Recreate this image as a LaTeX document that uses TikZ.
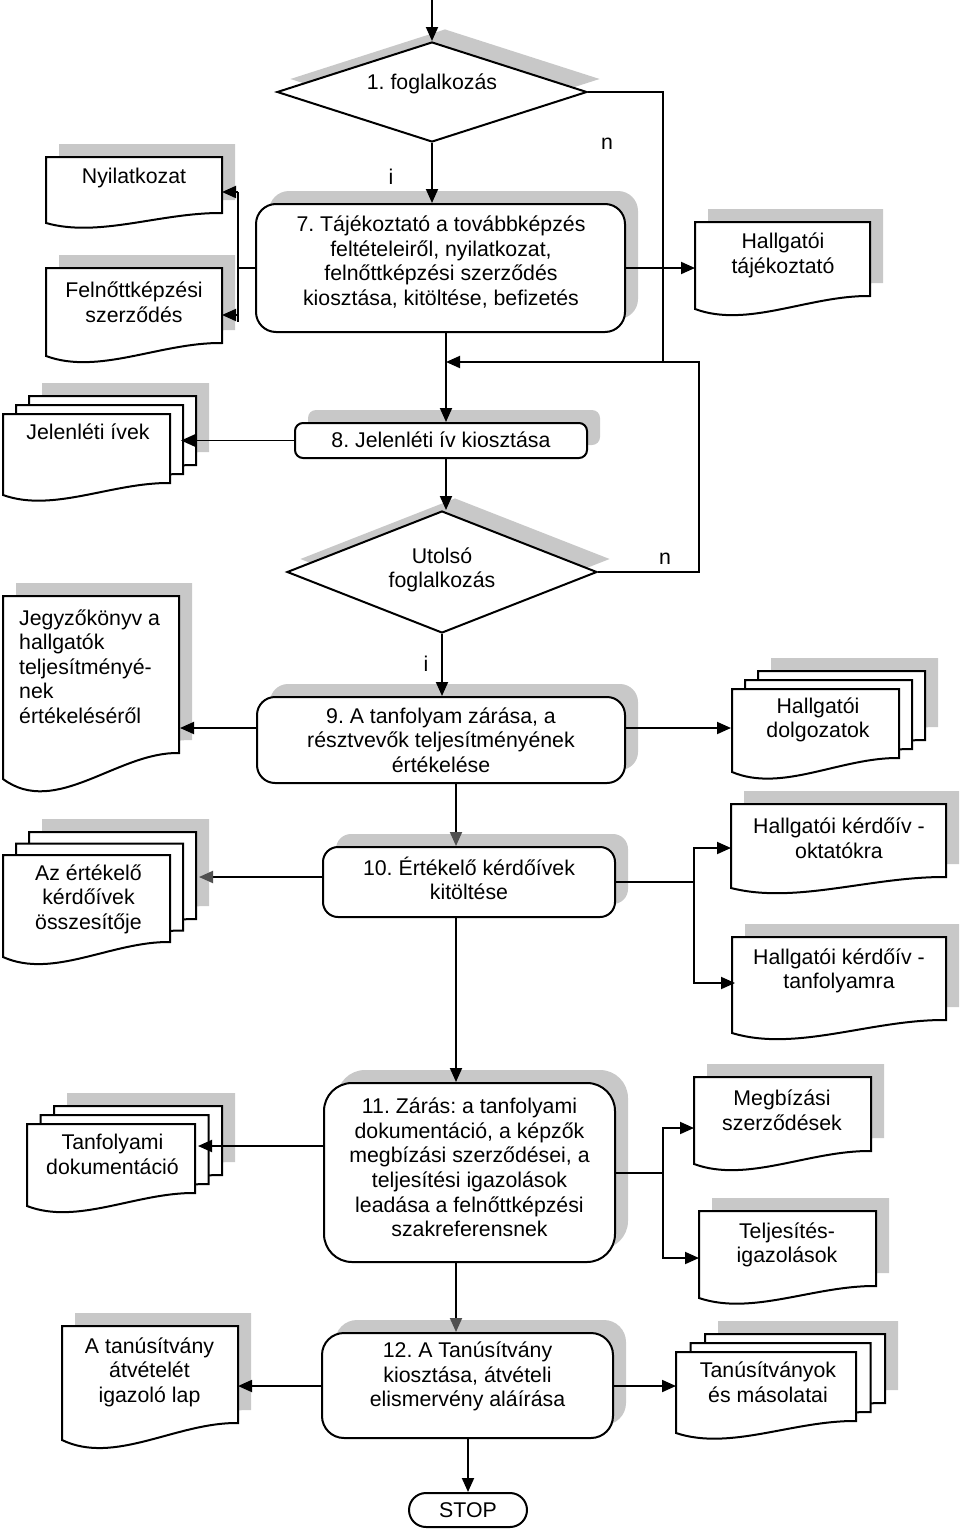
\documentclass[tikz,border=0pt]{standalone}
\usepackage{fontspec}
\setmainfont{Liberation Sans}
\frenchspacing
\usetikzlibrary{shapes.geometric,shadows,arrows.meta}
\definecolor{shadowc}{RGB}{200,200,200}
\definecolor{arrowg}{RGB}{80,80,80}
% document shape: x0, ytop, x1, y bottom-left, y bottom-right
\newcommand\docpath[5]{({#1},{#2}) -- ({#3},{#2}) -- ({#3},{#5}) .. controls ({(#1)+0.65*((#3)-(#1))},{(#4)-1.05*((#4)-(#5))}) and ({(#1)+0.3*((#3)-(#1))},{(#4)+1.5*((#4)-(#5))}) .. ({#1},{#4}) -- cycle}
\newcommand\singledoc[5]{%
  \fill[shadowc] \docpath{(#1)+13}{(#2)-13}{(#3)+13}{(#4)-13}{(#5)-13};
  \filldraw[docline] \docpath{#1}{#2}{#3}{#4}{#5};}
\newcommand\multidoc[7]{%
  \fill[shadowc] \docpath{(#1)+2*(#6)+13}{(#2)+2*(#7)-13}{(#3)+2*(#6)+13}{(#4)+2*(#7)-13}{(#5)+2*(#7)-13};
  \filldraw[docline] \docpath{(#1)+2*(#6)}{(#2)+2*(#7)}{(#3)+2*(#6)}{(#4)+2*(#7)}{(#5)+2*(#7)};
  \filldraw[docline] \docpath{(#1)+(#6)}{(#2)+(#7)}{(#3)+(#6)}{(#4)+(#7)}{(#5)+(#7)};
  \filldraw[docline] \docpath{#1}{#2}{#3}{#4}{#5};}
\begin{document}
\begin{tikzpicture}[x=1pt,y=-1pt,
  docline/.style={draw=black,fill=white,line width=2pt,line join=miter},
  shad/.style={drop shadow={shadow xshift=13pt,shadow yshift=13pt,fill=shadowc,opacity=1}},
  proc/.style={draw,line width=2pt,fill=white,inner sep=0pt,shad},
  dia/.style={diamond,draw,line width=2pt,fill=white,inner sep=0pt,shad},
  txt/.style={font=\fontsize{21.3}{24.6}\selectfont,align=center,inner sep=0pt},
  conn/.style={line width=1.9pt},
  arr/.style={conn,-{Triangle[length=14pt,width=12pt]}},
  arrg/.style={conn,-{Triangle[length=14pt,width=12pt,color=arrowg]}}
]
\useasboundingbox (0,0) rectangle (960,1531);

% documents
\singledoc{46}{157}{222}{223}{213}
\singledoc{46}{268}{222}{356}{343}
\singledoc{695}{222}{870}{309}{296}
\multidoc{3}{414}{170}{495}{483}{13}{-9}
\singledoc{3}{596}{179}{779}{753}
\multidoc{732}{689}{899}{772}{758}{13}{-9}
\multidoc{3}{855}{170}{957}{942}{13}{-11.5}
\singledoc{731}{804}{946}{888}{877}
\singledoc{732}{937}{946}{1033}{1020}
\multidoc{27}{1124}{195}{1206}{1193}{13.5}{-9}
\singledoc{694}{1077}{871}{1164}{1151}
\singledoc{699}{1211}{876}{1298}{1286}
\singledoc{62}{1326}{238}{1440}{1423}
\multidoc{676}{1352}{856}{1433}{1421}{14.5}{-9}

% process boxes and decisions
\node[dia,minimum width=310pt,minimum height=100pt] (d1) at (432,92) {};
\node[proc,minimum width=369pt,minimum height=128pt,rounded corners=20pt] (b7) at (440.5,268) {};
\node[proc,minimum width=292pt,minimum height=35pt,rounded corners=8pt] (b8) at (441,440.5) {};
\node[dia,minimum width=310pt,minimum height=122pt] (d2) at (442,572) {};
\node[proc,minimum width=368pt,minimum height=86pt,rounded corners=18pt] (b9) at (441,740) {};
\node[proc,minimum width=292pt,minimum height=70pt,rounded corners=15pt] (b10) at (469,882) {};
\node[proc,minimum width=291pt,minimum height=179pt,rounded corners=28pt] (b11) at (469.5,1172.5) {};
\node[proc,minimum width=291pt,minimum height=105pt,rounded corners=22pt] (b12) at (467.5,1385.5) {};
\node[txt,draw,line width=2pt,fill=white,minimum width=118pt,minimum height=34pt,rounded corners=17pt] (stop) at (468,1510) {STOP};

% texts
\node[txt] (t1) at (432,84) {1. foglalkozás};
\node[txt] (t7) at (441,262) {7. Tájékoztató a továbbképzés\\feltételeiről, nyilatkozat,\\felnőttképzési szerződés\\kiosztása, kitöltése, befizetés};
\node[txt] (t8) at (441,440) {8. Jelenléti ív kiosztása};
\node[txt] (td2) at (442,570) {Utolsó\\foglalkozás};
\node[txt] (t9) at (441,740) {9. A tanfolyam zárása, a\\résztvevők teljesítményének\\értékelése};
\node[txt] (t10) at (469,878.5) {10. Értékelő kérdőívek\\kitöltése};
\node[txt] (t11) at (469.5,1167.5) {11. Zárás: a tanfolyami\\dokumentáció, a képzők\\megbízási szerződései, a\\teljesítési igazolások\\leadása a felnőttképzési\\szakreferensnek};
\node[txt] (t12) at (467.5,1376.5) {12. A Tanúsítvány\\kiosztása, átvételi\\elismervény aláírása};

\node[txt] (nyil) at (134,178) {Nyilatkozat};
\node[txt] (feln) at (134,302) {Felnőttképzési\\szerződés};
\node[txt] (taj) at (783,255.5) {Hallgatói\\tájékoztató};
\node[txt] (jel) at (88,432) {Jelenléti ívek};
\node[txt,align=left,anchor=west] (jegy) at (19,666.5) {Jegyzőkönyv a\\hallgatók\\teljesítményé-\\nek\\értékeléséről};
\node[txt] (dolg) at (818,720) {Hallgatói\\dolgozatok};
\node[txt] (ert) at (88.5,899) {Az értékelő\\kérdőívek\\összesítője};
\node[txt] (okt) at (839,838.5) {Hallgatói kérdőív -\\oktatókra};
\node[txt] (tanf) at (839,971) {Hallgatói kérdőív -\\tanfolyamra};
\node[txt] (tanfd) at (112.5,1154.5) {Tanfolyami\\dokumentáció};
\node[txt] (megb) at (782,1110.5) {Megbízási\\szerződések};
\node[txt] (telj) at (787,1245) {Teljesítés-\\igazolások};
\node[txt] (atv) at (149.5,1372) {A tanúsítvány\\átvételét\\igazoló lap};
\node[txt] (tanu) at (768,1382.5) {Tanúsítványok\\és másolatai};

\node[txt] (n1) at (607,144) {n};
\node[txt] (i1) at (391,177) {i};
\node[txt] (n2) at (665,559) {n};
\node[txt] (i2) at (426,664) {i};

% connectors
\coordinate (top) at (432,0);
\draw[arr] (top) -- (d1.north);
\draw[arr] (d1.south) -- (d1.south |- b7.north);
\coordinate (j1) at (663,362);
\coordinate (j2) at (699,362);
\coordinate (m78) at (446,362);
\draw[conn] (d1.east) -| (j1);
\draw[arr] (d2.east) -| (j2) -- (m78);
\draw[arr] (b7.south -| m78) -- (b8.north -| m78);

\coordinate (v7) at (238,268);
\coordinate (v7b) at (238,322);
\coordinate (nyilR) at (222,192);
\coordinate (felnR) at (222,315);
\draw[conn] (b7.west) -- (v7);
\draw[conn] (v7 |- nyilR) -- (v7b);
\draw[arr] (v7 |- nyilR) -- (nyilR);
\draw[arr] (v7 |- felnR) -- (felnR);
\coordinate (tajL) at (695,268);
\draw[arr] (b7.east) -- (tajL);

\coordinate (jelR) at (181,440.5);
\draw[arr] (b8.west) -- (jelR);
\draw[arr] (b8.south -| m78) -- (d2.north -| m78);
\draw[arr] (d2.south) -- (d2.south |- b9.north);

\coordinate (jegyR) at (180,728);
\draw[arr] (b9.west |- jegyR) -- (jegyR);
\coordinate (dolgL) at (731,728);
\draw[arr] (b9.east |- dolgL) -- (dolgL);
\coordinate (m910) at (456,800);
\draw[arrg] (b9.south -| m910) -- (b10.north -| m910);

\coordinate (ertR) at (199,877);
\draw[arrg] (b10.west |- ertR) -- (ertR);
\coordinate (v10) at (694,882);
\coordinate (oktL) at (731,848);
\coordinate (tanfL) at (735,983);
\draw[conn] (b10.east |- v10) -- (v10);
\draw[arr] (v10) |- (oktL);
\draw[arr] (v10) |- (tanfL);
\draw[arr] (b10.south -| m910) -- (b11.north -| m910);

\coordinate (tanfdR) at (198,1146);
\draw[arr] (b11.west |- tanfdR) -- (tanfdR);
\coordinate (v11) at (663,1173);
\coordinate (megbL) at (694,1128);
\coordinate (teljL) at (699,1258);
\draw[conn] (b11.east |- v11) -- (v11);
\draw[arr] (v11) |- (megbL);
\draw[arr] (v11) |- (teljL);
\draw[arrg] (b11.south -| m910) -- (b12.north -| m910);

\coordinate (atvR) at (238,1386);
\coordinate (tanuL) at (676,1386);
\draw[arr] (b12.west |- atvR) -- (atvR);
\draw[arr] (b12.east |- tanuL) -- (tanuL);
\draw[arr] (b12.south -| stop) -- (stop.north);
\end{tikzpicture}
\end{document}
